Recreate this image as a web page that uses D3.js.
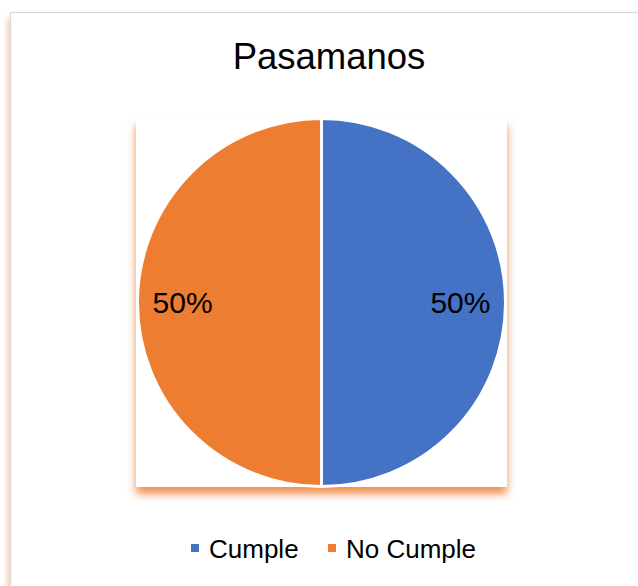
<!DOCTYPE html>
<html>
<head>
<meta charset="utf-8">
<script src="https://cdn.jsdelivr.net/npm/d3@7"></script>
<style>
  html, body { margin: 0; padding: 0; background: #ffffff; }
  svg { display: block; font-family: "Liberation Sans", Arial, sans-serif; }
</style>
</head>
<body>
<svg id="chart" width="638" height="586"></svg>
<script>
const title = "Pasamanos";
const categories = ["Cumple", "No Cumple"];
const values = [50, 50];
const colors = ["#4472C4", "#ED7D31"];

const svg = d3.select("#chart");
const defs = svg.append("defs");

const frameShadow = defs.append("filter").attr("id", "frameShadow")
  .attr("x", "-5%").attr("y", "-5%").attr("width", "110%").attr("height", "110%");
frameShadow.append("feDropShadow").attr("dx", -3).attr("dy", 6).attr("stdDeviation", 2.5)
  .attr("flood-color", "#ED7D31").attr("flood-opacity", 0.35);

const plotShadow = defs.append("filter").attr("id", "plotShadow")
  .attr("x", "-10%").attr("y", "-10%").attr("width", "120%").attr("height", "125%");
plotShadow.append("feDropShadow").attr("dx", 0).attr("dy", 7).attr("stdDeviation", 4)
  .attr("flood-color", "#ED7D31").attr("flood-opacity", 0.85);

// chart frame
svg.append("rect")
  .attr("x", 10.5).attr("y", 12.5).attr("width", 700).attr("height", 700)
  .attr("fill", "#ffffff").attr("stroke", "#d9d9d9").attr("stroke-width", 1.2)
  .attr("filter", "url(#frameShadow)");

// title
svg.append("text")
  .attr("x", 329).attr("y", 69)
  .attr("text-anchor", "middle")
  .attr("font-size", 36.5).attr("fill", "#000000")
  .text(title);

// plot area
const plot = { x: 136, y: 118, w: 371, h: 369 };
svg.append("rect")
  .attr("x", plot.x).attr("y", plot.y).attr("width", plot.w).attr("height", plot.h)
  .attr("fill", "#ffffff")
  .attr("filter", "url(#plotShadow)");

const cx = 321.5, cy = 302.5, r = 184;
const pie = d3.pie().sort(null).value(d => d.value);
const arcs = pie(categories.map((c, i) => ({ name: c, value: values[i], color: colors[i] })));
const arc = d3.arc().innerRadius(0).outerRadius(r);
const labelArc = d3.arc().innerRadius(r * 0.755).outerRadius(r * 0.755);
const total = d3.sum(values);

const g = svg.append("g").attr("transform", `translate(${cx},${cy})`);
g.selectAll("path.slice")
  .data(arcs).join("path")
  .attr("class", "slice")
  .attr("d", arc)
  .attr("fill", d => d.data.color)
  .attr("stroke", "#ffffff")
  .attr("stroke-width", 3)
  .attr("stroke-linejoin", "round");

g.selectAll("text.lbl")
  .data(arcs).join("text")
  .attr("class", "lbl")
  .attr("transform", d => `translate(${labelArc.centroid(d)})`)
  .attr("text-anchor", "middle")
  .attr("dy", "0.36em")
  .attr("font-size", 30)
  .attr("fill", "#000000")
  .text(d => d3.format(".0%")(d.data.value / total));

// legend
const legendItems = [
  { sx: 191, tx: 209 },
  { sx: 328, tx: 346 }
];
const lg = svg.append("g");
categories.forEach((c, i) => {
  lg.append("rect")
    .attr("x", legendItems[i].sx).attr("y", 544)
    .attr("width", 8).attr("height", 8)
    .attr("fill", colors[i]);
  lg.append("text")
    .attr("x", legendItems[i].tx).attr("y", 558)
    .attr("font-size", 26).attr("fill", "#000000")
    .text(c);
});
</script>
</body>
</html>
